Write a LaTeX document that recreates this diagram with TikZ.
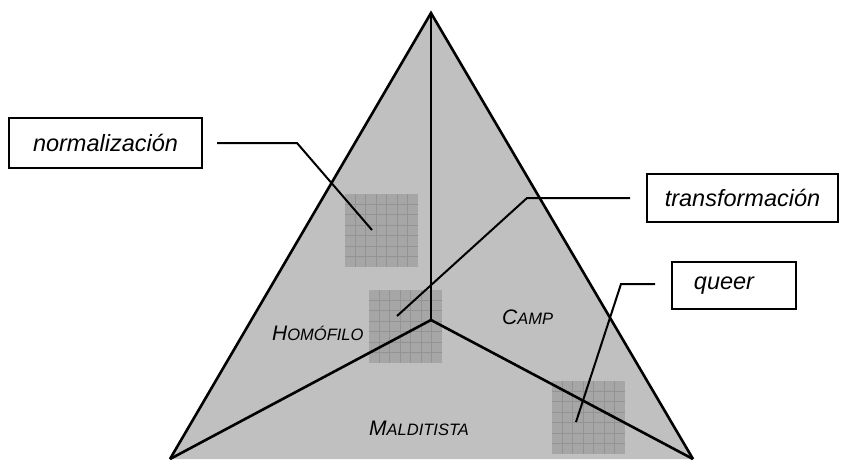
\documentclass[tikz,border=0pt]{standalone}
\usepackage{fontspec}
\setmainfont{Liberation Sans}
\definecolor{trigray}{HTML}{C0C0C0}
\definecolor{sqgray}{HTML}{A6A6A6}
\definecolor{gridgray}{HTML}{939393}
\newcommand\fakesc[2]{{\fontsize{21}{21}\selectfont #1}{\fontsize{16.5}{16}\selectfont #2}}
\begin{document}
\begin{tikzpicture}[x=1pt,y=-1pt,
  labelbox/.style={draw=black,line width=1.5pt,fill=white,font=\fontsize{23.5}{24}\selectfont\itshape,inner sep=0pt},
  callout/.style={draw=black,line width=2pt,line join=miter},
  divider/.style={draw=black,line width=2.6pt,line join=miter},
  region/.style={font=\itshape,anchor=base west,inner sep=0pt},
  patch/.style={fill=sqgray},
  patchgrid/.style={draw=gridgray,line width=0.8pt}]
\useasboundingbox (0,0) rectangle (854,459);
% triangle
\coordinate (apex) at (431,13);
\coordinate (bl) at (170,459);
\coordinate (br) at (693,459);
\coordinate (ctr) at (431,320);
\fill[trigray] (apex) -- (br) -- (bl) -- cycle;
% patterned squares
\foreach \sx/\sy/\nm in {345/194/sqA,369/290/sqB,552/381/sqC}{
  \fill[patch] (\sx,\sy) rectangle ++(73,73);
  \foreach \i in {1,...,6}{
    \draw[patchgrid] (\sx+\i*10.43,\sy) -- ++(0,73);
    \draw[patchgrid] (\sx,\sy+\i*10.43) -- ++(73,0);
  }
  \coordinate (\nm) at (\sx+36.5,\sy+36.5);
}
% triangle lines
\draw[divider] (bl) -- (apex) -- (br);
\draw[divider] (apex) -- (ctr);
\draw[divider] (bl) -- (ctr) -- (br);
% region labels
\node[region] (hom) at (272,340) {\fakesc{H}{OMÓFILO}};
\node[region] (camp) at (502,324) {\fakesc{C}{AMP}};
\node[region] (mal) at (369,435) {\fakesc{M}{ALDITISTA}};
% boxes
\node[labelbox,minimum width=193pt,minimum height=50pt] (norm) at (105.5,143) {normalización};
\node[labelbox,minimum width=191pt,minimum height=48pt] (trans) at (742.5,198) {transformación};
\node[labelbox,minimum width=124pt,minimum height=47pt] (queer) at (734,285.5) {queer\hspace*{20pt}};
% callouts
\coordinate (n1) at (217,143);
\coordinate (n2) at (297,143);
\coordinate (n3) at (372,230);
\draw[callout] (n1) -- (n2) -- (n3);
\coordinate (t1) at (630,198);
\coordinate (t2) at (527,198);
\coordinate (t3) at (397,316);
\draw[callout] (t1) -- (t2) -- (t3);
\coordinate (q1) at (655,284);
\coordinate (q2) at (621,284);
\coordinate (q3) at (576,422);
\draw[callout] (q1) -- (q2) -- (q3);
\end{tikzpicture}
\end{document}
